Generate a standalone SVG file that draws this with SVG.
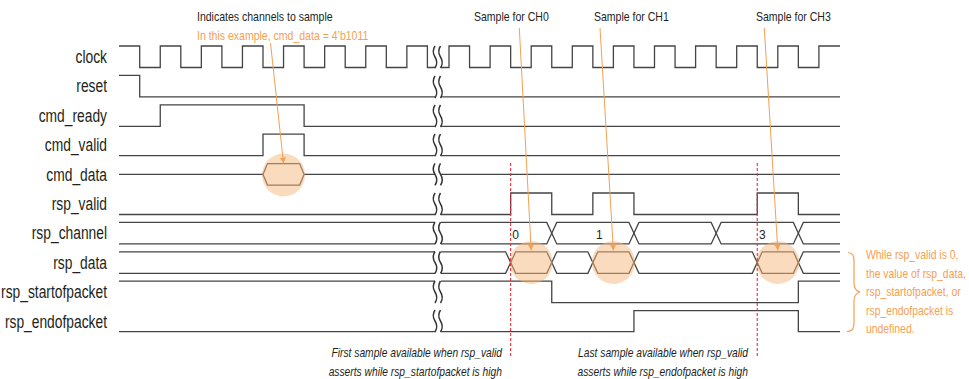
<svg xmlns="http://www.w3.org/2000/svg" xmlns:xlink="http://www.w3.org/1999/xlink" width="969" height="379" viewBox="0 0 969 379">
<style>
.lbl{font-family:"Liberation Sans",Arial,sans-serif;font-size:17.5px;fill:#231f20;text-anchor:end}
.ann{font-family:"Liberation Sans",Arial,sans-serif;font-size:13px;fill:#231f20}
.org{font-family:"Liberation Sans",Arial,sans-serif;font-size:13px;fill:#f5a052}
.it{font-family:"Liberation Sans",Arial,sans-serif;font-size:13px;font-style:italic;fill:#231f20;text-anchor:end}
.num{font-family:"Liberation Sans",Arial,sans-serif;font-size:12px;fill:#231f20;text-anchor:middle}
.w{fill:none;stroke:#444;stroke-width:1.3}
.brk{fill:none;stroke:#333;stroke-width:1.5}
.hl{fill:#f5b77c;opacity:0.5}
.ldr{fill:none;stroke:#f5a052;stroke-width:1;marker-end:url(#ah)}
.red{fill:none;stroke:#e2303c;stroke-width:1.1;stroke-dasharray:3 2}
</style>
<defs>
<marker id="ah" viewBox="0 0 6 6" refX="6" refY="3" markerWidth="6" markerHeight="6" markerUnits="userSpaceOnUse" orient="auto">
<path d="M0,0 L6,3 L0,6 Z" fill="#f5a052"/>
</marker>
<g id="sq">
<path class="brk" d="M0,-11 q-3.5,5.5 0,11 q3.5,5.5 0,11"/>
<path class="brk" d="M5.5,-11 q-3.5,5.5 0,11 q3.5,5.5 0,11"/>
</g>
</defs>
<rect width="969" height="379" fill="#fff"/>

<g id="clock">
<text class="lbl" transform="translate(107 63) scale(0.79 1)">clock</text>
<path class="w" d="M119,46 H139.7 V67.5 H160.25 V46 H180.8 V67.5 H201.35 V46 H221.9 V67.5 H242.45 V46 H263 V67.5 H283.55 V46 H304.1 V67.5 H324.65 V46 H345.2 V67.5 H365.75 V46 H386.3 V67.5 H406.85 V46 H427.4 V67.5 H435 M441,67.5 H449 V46 H469.55 V67.5 H490.1 V46 H510.65 V67.5 H531.2 V46 H551.75 V67.5 H572.3 V46 H592.85 V67.5 H613.4 V46 H633.95 V67.5 H654.5 V46 H675.05 V67.5 H695.6 V46 H716.15 V67.5 H736.7 V46 H757.25 V67.5 H777.8 V46 H798.35 V67.5 H818.9 V46 H840"/>
<use xlink:href="#sq" href="#sq" x="435" y="57"/>
</g>

<g id="reset">
<text class="lbl" transform="translate(107 92.4) scale(0.79 1)">reset</text>
<path class="w" d="M119,75.4 H139.7 V96.9 H435 M441,96.9 H840"/>
<use xlink:href="#sq" href="#sq" x="435" y="87"/>
</g>

<g id="cmd_ready">
<text class="lbl" transform="translate(107 121.8) scale(0.79 1)">cmd_ready</text>
<path class="w" d="M119,126.3 H160.25 V104.8 H304.1 V126.3 H435 M441,126.3 H840"/>
<use xlink:href="#sq" href="#sq" x="435" y="116"/>
</g>

<g id="cmd_valid">
<text class="lbl" transform="translate(107 151.2) scale(0.79 1)">cmd_valid</text>
<path class="w" d="M119,155.7 H263 V134.2 H304.1 V155.7 H435 M441,155.7 H840"/>
<use xlink:href="#sq" href="#sq" x="435" y="145"/>
</g>

<g id="cmd_data">
<text class="lbl" transform="translate(107 180.6) scale(0.79 1)">cmd_data</text>
<path class="w" d="M119,174.4 H263 M304.1,174.4 H435 M441,174.4 H840"/>
<path class="w" d="M263,174.4 L267.5,163.6 H299.6 L304.1,174.4 L299.6,185.1 H267.5 Z"/>
<use xlink:href="#sq" href="#sq" x="435" y="174.4"/>
</g>

<g id="rsp_valid">
<text class="lbl" transform="translate(107 210) scale(0.79 1)">rsp_valid</text>
<path class="w" d="M119,214.5 H435 M441,214.5 H510.65 V193 H551.75 V214.5 H592.85 V193 H633.95 V214.5 H757.25 V193 H798.35 V214.5 H840"/>
<use xlink:href="#sq" href="#sq" x="435" y="204"/>
</g>

<g id="rsp_channel">
<text class="lbl" transform="translate(107 239.4) scale(0.79 1)">rsp_channel</text>
<path class="w" d="M119,222.4 H435 M119,243.9 H435"/>
<path class="w" d="M441,222.4 H546.75 L556.75,243.9 H628.95 L638.95,222.4 H711.15 L721.15,243.9 H793.35 L803.35,222.4 H840"/>
<path class="w" d="M441,243.9 H546.75 L556.75,222.4 H628.95 L638.95,243.9 H711.15 L721.15,222.4 H793.35 L803.35,243.9 H840"/>
<text class="num" x="515.7" y="238.6">0</text>
<text class="num" x="599.3" y="238.6">1</text>
<text class="num" x="762.3" y="238.6">3</text>
<use xlink:href="#sq" href="#sq" x="435" y="233.2"/>
</g>

<g id="rsp_data">
<text class="lbl" transform="translate(107 268.8) scale(0.79 1)">rsp_data</text>
<path class="w" d="M119,251.8 H435 M119,273.3 H435"/>
<path class="w" d="M441,251.8 H505.65 L515.65,273.3 H546.75 L556.75,251.8 H587.85 L597.85,273.3 H628.95 L638.95,251.8 H752.25 L762.25,273.3 H793.35 L803.35,251.8 H840"/>
<path class="w" d="M441,273.3 H505.65 L515.65,251.8 H546.75 L556.75,273.3 H587.85 L597.85,251.8 H628.95 L638.95,273.3 H752.25 L762.25,251.8 H793.35 L803.35,273.3 H840"/>
<use xlink:href="#sq" href="#sq" x="435" y="262.5"/>
</g>

<g id="rsp_startofpacket">
<text class="lbl" transform="translate(107 298.2) scale(0.79 1)">rsp_startofpacket</text>
<path class="w" d="M119,281.2 H435 M441,281.2 H551.75 V302.7 H798.35 V281.2 H840"/>
<use xlink:href="#sq" href="#sq" x="435" y="292"/>
</g>

<g id="rsp_endofpacket">
<text class="lbl" transform="translate(107 327.6) scale(0.79 1)">rsp_endofpacket</text>
<path class="w" d="M119,331.6 H435 M441,331.6 H633.95 V310.6 H798.35 V331.6 H840"/>
<use xlink:href="#sq" href="#sq" x="435" y="321"/>
</g>

<g id="highlights">
<circle class="hl" cx="283.55" cy="175" r="21.5"/>
<circle class="hl" cx="531.2" cy="262.5" r="21.5"/>
<circle class="hl" cx="613.4" cy="262.5" r="21.5"/>
<circle class="hl" cx="777.8" cy="262.5" r="21.5"/>
</g>

<g id="markers">
<line class="red" x1="510.65" y1="163" x2="510.65" y2="356"/>
<line class="red" x1="757.25" y1="163" x2="757.25" y2="356" stroke="#e8707e"/>
</g>

<g id="connectors">
<line class="ldr" x1="270.5" y1="43" x2="283.5" y2="163.5"/>
<line class="ldr" x1="519.3" y1="28" x2="531.2" y2="250.5"/>
<line class="ldr" x1="600" y1="28" x2="613.4" y2="250.5"/>
<line class="ldr" x1="764.3" y1="28" x2="777.8" y2="250.5"/>
</g>

<g id="annotations">
<text class="ann" transform="translate(197 20.7) scale(0.81 1)">Indicates channels to sample</text>
<text class="org" transform="translate(197 39.5) scale(0.81 1)">In this example, cmd_data = 4’b1011</text>
<text class="ann" transform="translate(474 20.7) scale(0.81 1)">Sample for CH0</text>
<text class="ann" transform="translate(594 20.7) scale(0.81 1)">Sample for CH1</text>
<text class="ann" transform="translate(756 20.7) scale(0.81 1)">Sample for CH3</text>
<text class="it" transform="translate(502 357.3) scale(0.79 1)">First sample available when rsp_valid</text>
<text class="it" transform="translate(502 376) scale(0.79 1)">asserts while rsp_startofpacket is high</text>
<text class="it" transform="translate(748 357.3) scale(0.79 1)">Last sample available when rsp_valid</text>
<text class="it" transform="translate(748 376) scale(0.79 1)">asserts while rsp_endofpacket is high</text>
<path fill="none" stroke="#f5a052" stroke-width="1.2" d="M848,252.5 C853,253 854,256 854,262 V283 C854,288 856,291 860,292 C856,293 854,296 854,301 V322 C854,328 853,331 847,331.5"/>
<text class="org" transform="translate(866 258.6) scale(0.8 1)">While rsp_valid is 0,</text>
<text class="org" transform="translate(866 277.5) scale(0.8 1)">the value of rsp_data,</text>
<text class="org" transform="translate(866 296.2) scale(0.8 1)">rsp_startofpacket, or</text>
<text class="org" transform="translate(866 314.8) scale(0.8 1)">rsp_endofpacket is</text>
<text class="org" transform="translate(866 333.4) scale(0.8 1)">undefined.</text>
</g>
</svg>
